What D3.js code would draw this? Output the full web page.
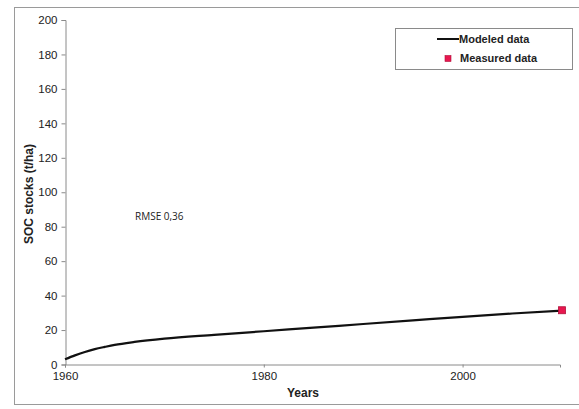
<!DOCTYPE html>
<html>
<head>
<meta charset="utf-8">
<script src="https://cdn.jsdelivr.net/npm/d3@7/dist/d3.min.js"></script>
<style>
  html, body { margin: 0; padding: 0; background: #fff; }
  svg { display: block; font-family: "Liberation Sans", Arial, sans-serif; }
</style>
</head>
<body>
<svg id="chart" width="579" height="409"></svg>
<script>
// Modeled SOC stock trajectory (t/ha) by year
const modeledYears  = [1960, 1961, 1962, 1963, 1964, 1965, 1967, 1970, 1975, 1980, 1985, 1990, 1995, 2000, 2005, 2010];
const modeledValues = [3.0, 5.3, 7.3, 8.9, 10.2, 11.4, 13.1, 15.0, 17.2, 19.3, 21.4, 23.5, 25.6, 27.7, 29.6, 31.3];

// Measured SOC stock
const measuredYears  = [2010];
const measuredValues = [31.5];

const yTicks = [0, 20, 40, 60, 80, 100, 120, 140, 160, 180, 200];
const xTicks = [1960, 1980, 2000];

const svg = d3.select("#chart");

// outer chart frame
svg.append("rect")
  .attr("x", 14.5).attr("y", 7.5)
  .attr("width", 570).attr("height", 397)
  .attr("fill", "#fff").attr("stroke", "#9a9a9a").attr("stroke-width", 1);

const x = d3.scaleLinear().domain([1960, 2009.8]).range([65, 560]);
const y = d3.scaleLinear().domain([0, 200]).range([364.5, 20]);

// y axis
const yAxis = d3.axisLeft(y).tickValues(yTicks).tickSize(4).tickPadding(4);
const gy = svg.append("g").attr("transform", "translate(65.5,0)").call(yAxis);
gy.select(".domain").attr("stroke", "#8a8a8a");
gy.selectAll(".tick line").attr("stroke", "#8a8a8a");
gy.selectAll(".tick text").attr("fill", "#222").attr("font-size", 11.5);

// x axis
const xAxis = d3.axisBottom(x).tickValues(xTicks).tickFormat(d3.format("d")).tickSize(3).tickPadding(4);
const gx = svg.append("g").attr("transform", "translate(0,364.5)").call(xAxis);
gx.select(".domain").attr("stroke", "#8a8a8a");
gx.selectAll(".tick line").attr("stroke", "#8a8a8a");
gx.selectAll(".tick text").attr("fill", "#222").attr("font-size", 11.5);

// axis titles
svg.append("text")
  .attr("x", 303).attr("y", 397)
  .attr("text-anchor", "middle")
  .attr("font-size", 12).attr("font-weight", "bold").attr("fill", "#222")
  .text("Years");

svg.append("text")
  .attr("transform", "translate(33,194) rotate(-90)")
  .attr("text-anchor", "middle")
  .attr("font-size", 12).attr("font-weight", "bold").attr("fill", "#222")
  .text("SOC stocks (t/ha)");

// modeled curve
const line = d3.line()
  .x((d, i) => x(modeledYears[i]))
  .y(d => y(d))
  .curve(d3.curveMonotoneX);

svg.append("path")
  .datum(modeledValues)
  .attr("d", line)
  .attr("fill", "none")
  .attr("stroke", "#111")
  .attr("stroke-width", 2.2);

// measured point
svg.selectAll("rect.measured")
  .data(measuredValues)
  .enter().append("rect")
  .attr("class", "measured")
  .attr("x", (d, i) => x(measuredYears[i]) - 3.5)
  .attr("y", d => y(d) - 3.5)
  .attr("width", 7).attr("height", 7)
  .attr("fill", "#e8174f").attr("stroke", "#b0103a").attr("stroke-width", 0.8);

// RMSE annotation
svg.append("text")
  .attr("x", 135).attr("y", 220)
  .attr("font-size", 10).attr("fill", "#222")
  .attr("font-family", "'Open Sans', sans-serif")
  .text("RMSE 0,36");

// legend
const lg = svg.append("g");
lg.append("rect")
  .attr("x", 395.5).attr("y", 28.5)
  .attr("width", 177).attr("height", 41)
  .attr("fill", "#fff").attr("stroke", "#8a8a8a");
lg.append("line")
  .attr("x1", 437).attr("x2", 459).attr("y1", 39).attr("y2", 39)
  .attr("stroke", "#111").attr("stroke-width", 2);
lg.append("text")
  .attr("x", 459).attr("y", 43)
  .attr("font-size", 11).attr("font-weight", "bold").attr("fill", "#222")
  .text("Modeled data");
lg.append("rect")
  .attr("x", 445).attr("y", 55.5).attr("width", 6).attr("height", 6)
  .attr("fill", "#e8174f").attr("stroke", "#b0103a").attr("stroke-width", 0.6);
lg.append("text")
  .attr("x", 460).attr("y", 62)
  .attr("font-size", 11).attr("font-weight", "bold").attr("fill", "#222")
  .text("Measured data");
</script>
</body>
</html>
